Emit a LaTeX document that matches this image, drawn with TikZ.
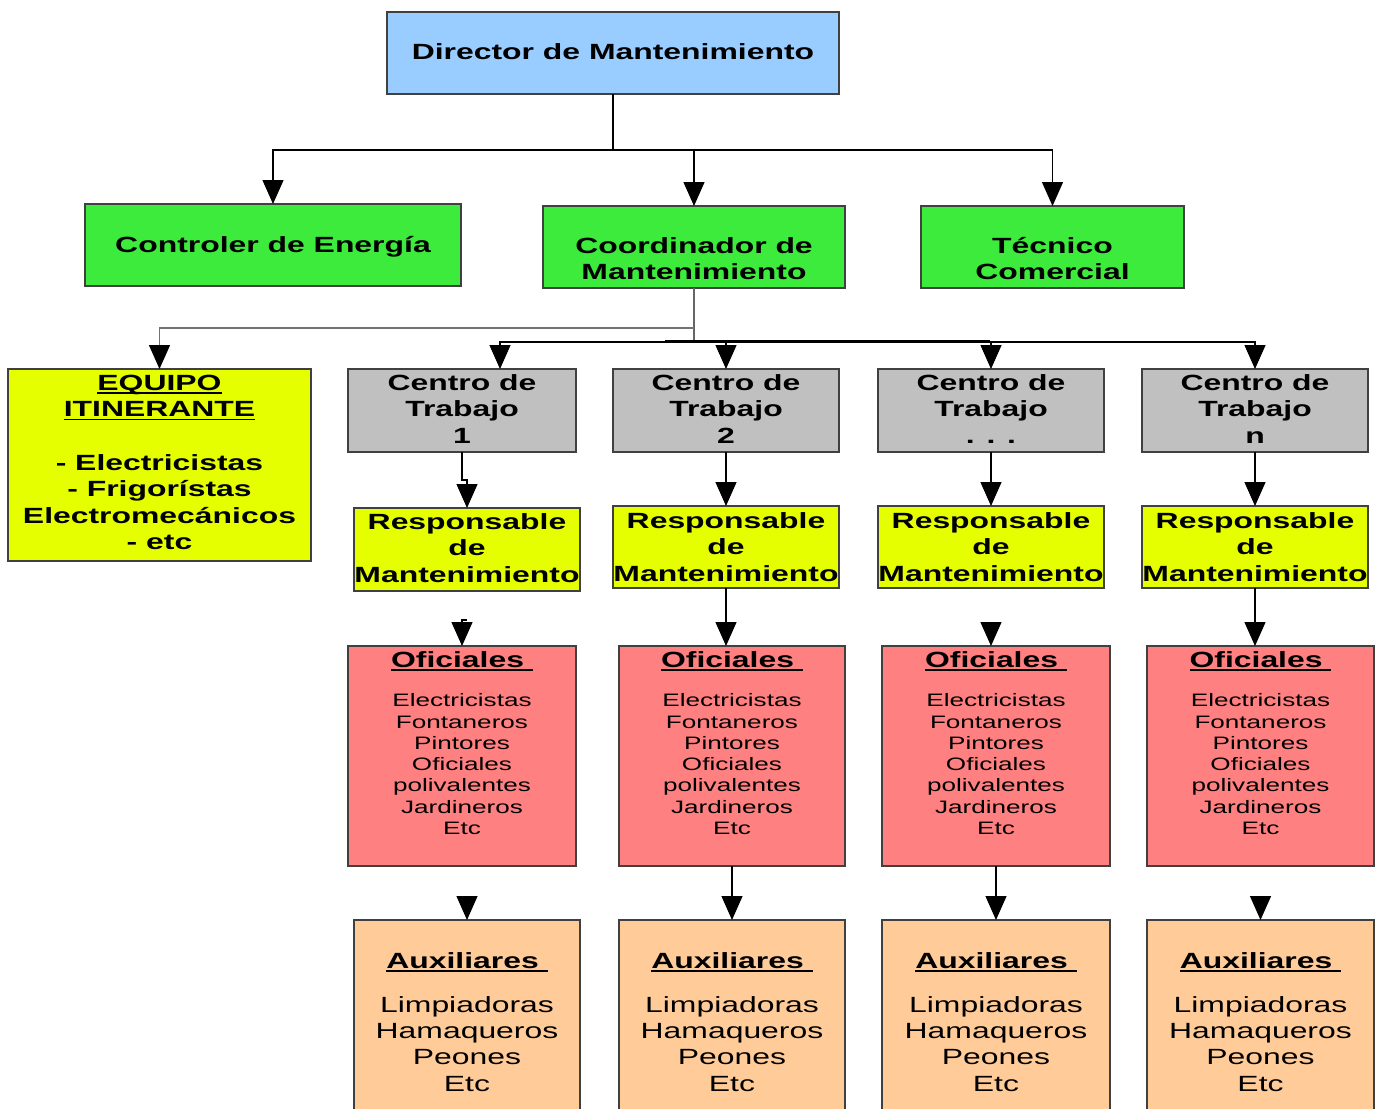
\documentclass[tikz,border=0pt]{standalone}
\usepackage{fontspec}
\setmainfont{Liberation Sans}[FakeStretch=1.45]
\usetikzlibrary{arrows.meta,calc}
\definecolor{cblue}{HTML}{99CCFF}
\definecolor{cgreen}{HTML}{3CEB3C}
\definecolor{cyellow}{HTML}{E6FF00}
\definecolor{cgrey}{HTML}{C0C0C0}
\definecolor{csalmon}{HTML}{FF8080}
\definecolor{cpeach}{HTML}{FFCC99}
\newcommand\myul[1]{\setbox0\hbox{#1}\rlap{\rule[-3.5pt]{\wd0}{1.6pt}}\box0}
\newcommand\topstrut{\rule{0pt}{18pt}}
\tikzset{
  box/.style={draw=black!75, line width=1.4pt, inner sep=0pt, outer sep=0pt},
  conn/.style={line width=1.3pt, draw=black},
  arr/.style={conn, -{Triangle[width=21pt,length=24pt,color=black]}},
  bigb/.style={font=\bfseries\fontsize{22}{26.6}\selectfont},
  bigr/.style={font=\fontsize{22}{26.3}\selectfont},
  smallr/.style={font=\fontsize{18}{21.3}\selectfont},
  lbl/.style={anchor=north, inner sep=0pt, align=center},
}
\begin{document}
\begin{tikzpicture}[x=1pt,y=-1pt]
\fill[white] (0,0) rectangle (1380,1108);
\useasboundingbox (0,0) rectangle (1380,1108);

% ---- boxes ----
\node[box, fill=cblue, minimum width=452pt, minimum height=82pt] (dir) at (613,53) {};
\node[box, fill=cgreen, minimum width=376pt, minimum height=82pt] (ctrl) at (273,245) {};
\node[box, fill=cgreen, minimum width=302pt, minimum height=82pt] (coord) at (694,247) {};
\node[box, fill=cgreen, minimum width=263pt, minimum height=82pt] (tec) at (1052.5,247) {};
\node[box, fill=cyellow, minimum width=303pt, minimum height=192pt] (equipo) at (159.5,465) {};

\node[box, fill=cgrey, minimum width=228pt, minimum height=83pt] (ct1) at (462,410.5) {};
\node[box, fill=cgrey, minimum width=226pt, minimum height=83pt] (ct2) at (726,410.5) {};
\node[box, fill=cgrey, minimum width=226pt, minimum height=83pt] (ct3) at (991,410.5) {};
\node[box, fill=cgrey, minimum width=226pt, minimum height=83pt] (ct4) at (1255,410.5) {};

\node[box, fill=cyellow, minimum width=226pt, minimum height=83pt] (resp1) at (467,549.5) {};
\node[box, fill=cyellow, minimum width=226pt, minimum height=82pt] (resp2) at (726,547) {};
\node[box, fill=cyellow, minimum width=226pt, minimum height=82pt] (resp3) at (991,547) {};
\node[box, fill=cyellow, minimum width=226pt, minimum height=82pt] (resp4) at (1255,547) {};

\node[box, fill=csalmon, minimum width=228pt, minimum height=220pt] (of1) at (462,756) {};
\node[box, fill=csalmon, minimum width=226pt, minimum height=220pt] (of2) at (732,756) {};
\node[box, fill=csalmon, minimum width=228pt, minimum height=220pt] (of3) at (996,756) {};
\node[box, fill=csalmon, minimum width=227pt, minimum height=220pt] (of4) at (1260.5,756) {};

\node[box, fill=cpeach, minimum width=226pt, minimum height=192pt] (aux1) at (467,1016) {};
\node[box, fill=cpeach, minimum width=226pt, minimum height=192pt] (aux2) at (732,1016) {};
\node[box, fill=cpeach, minimum width=228pt, minimum height=192pt] (aux3) at (996,1016) {};
\node[box, fill=cpeach, minimum width=227pt, minimum height=192pt] (aux4) at (1260.5,1016) {};

% ---- texts ----
\node[lbl, bigb] (dirt) at (613,41) {\topstrut Director de Mantenimiento};
\node[lbl, bigb] (ctrlt) at (273,234) {\topstrut Controler de Energía};
\node[lbl, bigb] (coordt) at (694,235) {\topstrut Coordinador de\\Mantenimiento};
\node[lbl, bigb] (tect) at (1052.5,235) {\topstrut Técnico\\Comercial};
\node[lbl, bigb] (eqt) at (159.5,372) {\topstrut\myul{EQUIPO}\\\myul{ITINERANTE}\\[26.6pt]- Electricistas\\- Frigorístas\\Electromecánicos\\- etc};

\node[lbl, bigb] (ct1t) at (462,372) {\topstrut Centro de\\Trabajo\\1};
\node[lbl, bigb] (ct2t) at (726,372) {\topstrut Centro de\\Trabajo\\2};
\node[lbl, bigb] (ct3t) at (991,372) {\topstrut Centro de\\Trabajo\\. . .};
\node[lbl, bigb] (ct4t) at (1255,372) {\topstrut Centro de\\Trabajo\\n};

\node[lbl, bigb] (resp1t) at (467,511) {\topstrut Responsable\\de\\Mantenimiento};
\node[lbl, bigb] (resp2t) at (726,510) {\topstrut Responsable\\de\\Mantenimiento};
\node[lbl, bigb] (resp3t) at (991,510) {\topstrut Responsable\\de\\Mantenimiento};
\node[lbl, bigb] (resp4t) at (1255,510) {\topstrut Responsable\\de\\Mantenimiento};

\foreach \n/\cx in {1/462,2/732,3/996,4/1260.5}{
  \node[lbl, bigb] (ofh\n) at (\cx,649) {\topstrut\myul{Oficiales\ }};
  \node[lbl, smallr] (ofl\n) at (\cx,692.5) {\rule{0pt}{14pt}Electricistas\\Fontaneros\\Pintores\\Oficiales\\polivalentes\\Jardineros\\Etc};
}
\foreach \n/\cx in {1/467,2/732,3/996,4/1260.5}{
  \node[lbl, bigb] (auxh\n) at (\cx,950) {\topstrut\myul{Auxiliares\ }};
  \node[lbl, bigr] (auxl\n) at (\cx,994) {\topstrut Limpiadoras\\Hamaqueros\\Peones\\Etc};
}

% ---- connectors ----
\coordinate (j1) at (613,150);
\draw[conn] (dir.south) -- (j1);
\draw[arr] (j1) -| (ctrl.north);
\draw[arr] (j1) -| (coord.north);
\draw[arr] (j1) -| (tec.north);

\coordinate (j2) at (694,328);
\coordinate (j3) at (694,342);
\draw[conn, draw=black!60] (coord.south) -- (j3);
\draw[arr, draw=black!55] (j2) -| (equipo.north);
\draw[arr] (j3) -| ([xshift=38pt]ct1.north);
\draw[arr] (j3) -| (ct2.north);
\draw[arr] (j3) -| (ct3.north);
\draw[arr] (j3) -| (ct4.north);
\draw[line width=2.4pt] (665,341.5) -- (990,341.5);

\coordinate (k1) at (467,480);
\draw[arr] (ct1.south) |- (k1) -- (resp1.north);
\draw[arr] (ct2.south) -- (resp2.north);
\draw[arr] (ct3.south) -- (resp3.north);
\draw[arr] (ct4.south) -- (resp4.north);

\coordinate (r2in) at (resp2.south |- of2.north);
\coordinate (r3in) at (resp3.south |- of3.north);
\coordinate (r4in) at (resp4.south |- of4.north);
\draw[arr] ([xshift=5pt,yshift=26pt]of1.north) -- ++(-5,0) -- (of1.north);
\draw[arr] (resp2.south) -- (r2in);
\draw[arr] ([yshift=24pt]r3in) -- (r3in);
\draw[arr] (resp4.south) -- (r4in);

\draw[arr] ([yshift=24pt]aux1.north) -- (aux1.north);
\draw[arr] (of2.south) -- (aux2.north);
\draw[arr] (of3.south) -- (aux3.north);
\draw[arr] ([yshift=24pt]aux4.north) -- (aux4.north);
\end{tikzpicture}
\end{document}
